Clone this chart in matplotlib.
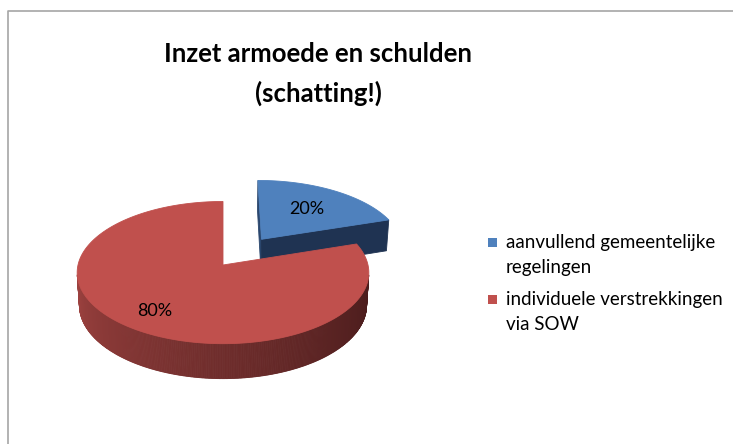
import numpy as np
import matplotlib.pyplot as plt
from matplotlib.patches import Polygon, Rectangle

# data
categories = ["aanvullend gemeentelijke\nregelingen", "individuele verstrekkingen\nvia SOW"]
values = [20, 80]
explode = [0.47, 0.0]
top_colors = ["#4F81BD", "#C0504D"]
title = "Inzet armoede en schulden\n(schatting!)"

# fake 3D camera (pixels)
F = 1189.0
DIST = 8.2
ELEV = np.radians(29)
H = 0.26
OX, OY = 223, 265
CAM = np.array([0.0, DIST * np.sin(ELEV), DIST * np.cos(ELEV)])


def project(X, Y, Z):
    depth = DIST - Y * np.sin(ELEV) - Z * np.cos(ELEV)
    sx = OX + F * X / depth
    sy = OY - F * (Y * np.cos(ELEV) - Z * np.sin(ELEV)) / depth
    return sx, sy


def facing(px, pz, nx, nz, y=0.0):
    p = np.array([px, y, pz])
    n = np.array([nx, 0.0, nz])
    return np.dot(CAM - p, n) > 0


def mix(c1, c2, t):
    return tuple((1 - t) * np.array(c1) + t * np.array(c2))


plt.rcParams['font.family'] = ['Lato', 'DejaVu Sans']
fig = plt.figure(figsize=(7.33, 4.44), dpi=100)
ax = fig.add_axes([0, 0, 1, 1])
ax.set_xlim(0, 733)
ax.set_ylim(444, 0)
ax.axis("off")

# chart border
ax.plot([8, 8, 740], [450, 11, 11], color="#A6A6A6", lw=1.2)

total = sum(values)
bounds = np.concatenate([[0], np.cumsum(values)]) / total * 360

slices = []
for i, v in enumerate(values):
    a0, a1 = bounds[i], bounds[i + 1]
    mid = np.radians((a0 + a1) / 2)
    ox, oz = explode[i] * np.sin(mid), -explode[i] * np.cos(mid)
    depth = DIST - oz * np.cos(ELEV)
    slices.append((depth, i, a0, a1, ox, oz))
slices.sort(reverse=True)  # far slices first

red_dark = (0.29, 0.11, 0.11)
red_light = (0.62, 0.26, 0.25)
blue_side = (0.12, 0.20, 0.32)
blue_side2 = (0.17, 0.28, 0.43)

for depth, i, a0, a1, ox, oz in slices:
    phis = np.radians(np.linspace(a0, a1, int(a1 - a0) * 2 + 2))
    # outer side
    for k in range(len(phis) - 1):
        p0, p1 = phis[k], phis[k + 1]
        pm = (p0 + p1) / 2
        if not facing(ox + np.sin(pm), oz - np.cos(pm), np.sin(pm), -np.cos(pm)):
            continue
        pts = []
        for p, y in [(p0, 0), (p1, 0), (p1, -H), (p0, -H)]:
            pts.append(project(ox + np.sin(p), y, oz - np.cos(p)))
        t = np.clip((np.degrees(pm) - 95) / 170, 0, 1)
        col = mix(red_dark, red_light, t ** 1.2) if i == 1 else blue_side
        ax.add_patch(Polygon(pts, closed=True, fc=col, ec=col, lw=0.6))
    # radial faces
    for ang, nang, col in [(a0, a0 - 90, blue_side2), (a1, a1 + 90, blue_side)]:
        ra, rn = np.radians(ang), np.radians(nang)
        if not facing(ox + 0.5 * np.sin(ra), oz - 0.5 * np.cos(ra), np.sin(rn), -np.cos(rn)):
            continue
        pts = [project(ox, 0, oz), project(ox + np.sin(ra), 0, oz - np.cos(ra)),
               project(ox + np.sin(ra), -H, oz - np.cos(ra)), project(ox, -H, oz)]
        c = col if i == 0 else red_dark
        ax.add_patch(Polygon(pts, closed=True, fc=c, ec=c, lw=0.6))
    # top face
    pts = [project(ox, 0, oz)] + [project(ox + np.sin(p), 0, oz - np.cos(p)) for p in phis]
    ax.add_patch(Polygon(pts, closed=True, fc=top_colors[i], ec=top_colors[i], lw=0.6))

# percentage labels
label_r = [0.6, 0.75]
for i, v in enumerate(values):
    mid = np.radians((bounds[i] + bounds[i + 1]) / 2)
    r = explode[i] + label_r[i]
    x, y = project(r * np.sin(mid), 0, -r * np.cos(mid))
    ax.text(x, y, f"{v / total:.0%}", ha="center", va="center", fontsize=13, color="black")

# title
for j, line in enumerate(title.split("\n")):
    ax.text(318, 62 + j * 40, line, ha="center", va="baseline", fontsize=18.5,
            fontweight="bold", color="black")

# legend
leg_y = [248, 305]
for i, cat in enumerate(categories):
    ax.add_patch(Rectangle((488, leg_y[i] - 10), 9, 9, fc=top_colors[i], ec="none"))
    for j, line in enumerate(cat.split("\n")):
        ax.text(506, leg_y[i] + j * 25, line, ha="left", va="baseline", fontsize=13.5,
                color="black")

fig.savefig("out.png", dpi=100)
